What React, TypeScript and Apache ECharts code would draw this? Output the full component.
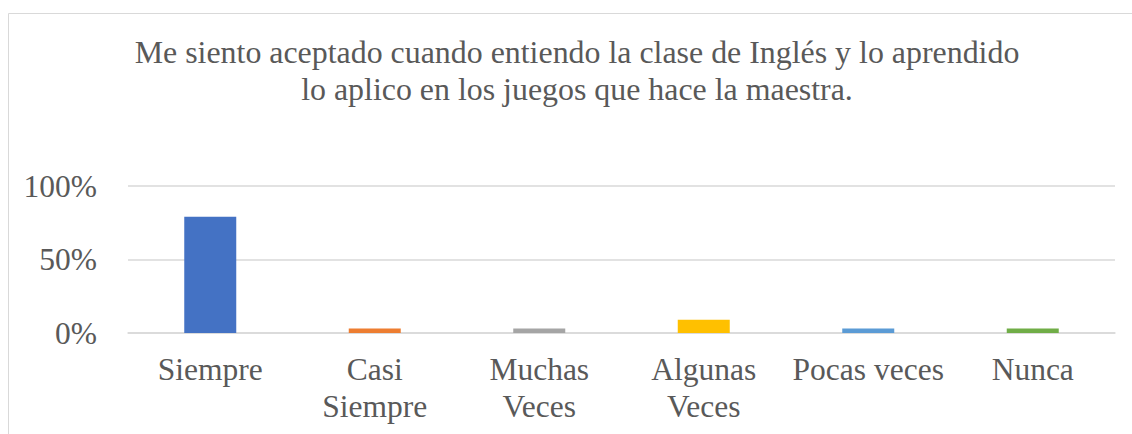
import React, { useEffect, useRef } from "react";
import * as echarts from "echarts";

const titleLines = [
  "Me siento aceptado cuando entiendo la clase de Inglés y lo aprendido",
  "lo aplico en los juegos que hace la maestra.",
];
const categories = ["Siempre", "Casi\nSiempre", "Muchas\nVeces", "Algunas\nVeces", "Pocas veces", "Nunca"];
const values = [79, 3, 3, 9, 3, 3];
const barColors = ["#4472C4", "#ED7D31", "#A5A5A5", "#FFC000", "#5B9BD5", "#70AD47"];
const yTicks = { min: 0, max: 100, interval: 50 };

const FONT = "Liberation Serif";
const TEXT_COLOR = "#595959";
const GRID_COLOR = "#d9d9d9";

export default function App() {
  const ref = useRef<HTMLDivElement>(null);

  useEffect(() => {
    if (!ref.current) return;
    const chart = echarts.init(ref.current, null, { renderer: "svg" });
    chart.setOption({
      animation: false,
      graphic: [
        {
          type: "rect",
          shape: { x: 8.5, y: 13.5, width: 1200, height: 500 },
          style: { fill: "none", stroke: GRID_COLOR, lineWidth: 1 },
          silent: true,
          z: -10,
        },
        ...titleLines.map((line, i) => ({
          type: "text",
          x: 577,
          y: 52.5 + i * 37,
          silent: true,
          style: {
            text: line,
            font: "31.9px 'Liberation Serif'",
            fill: TEXT_COLOR,
            align: "center",
            verticalAlign: "middle",
          },
        })),
      ],
      grid: { left: 128, right: 17, top: 186, bottom: 101, containLabel: false },
      xAxis: {
        type: "category",
        data: categories,
        axisTick: { show: false },
        axisLine: { show: true, lineStyle: { color: GRID_COLOR, width: 1.5 } },
        axisLabel: {
          interval: 0,
          margin: 18,
          fontFamily: FONT,
          fontSize: 31.5,
          color: TEXT_COLOR,
          lineHeight: 37,
        },
      },
      yAxis: {
        type: "value",
        min: yTicks.min,
        max: yTicks.max,
        interval: yTicks.interval,
        axisLine: { show: false },
        axisTick: { show: false },
        splitLine: { lineStyle: { color: GRID_COLOR, width: 1.5 } },
        axisLabel: {
          formatter: "{value}%",
          margin: 31,
          fontFamily: FONT,
          fontSize: 31.5,
          color: TEXT_COLOR,
        },
      },
      series: [
        {
          type: "bar",
          data: values.map((v, i) => ({ value: v, itemStyle: { color: barColors[i] } })),
          barWidth: 52,
        },
      ],
    });
    return () => chart.dispose();
  }, []);

  return (
    <div
      ref={ref}
      style={{ position: "absolute", left: 0, top: 0, width: 1132, height: 434, background: "#fff" }}
    />
  );
}
